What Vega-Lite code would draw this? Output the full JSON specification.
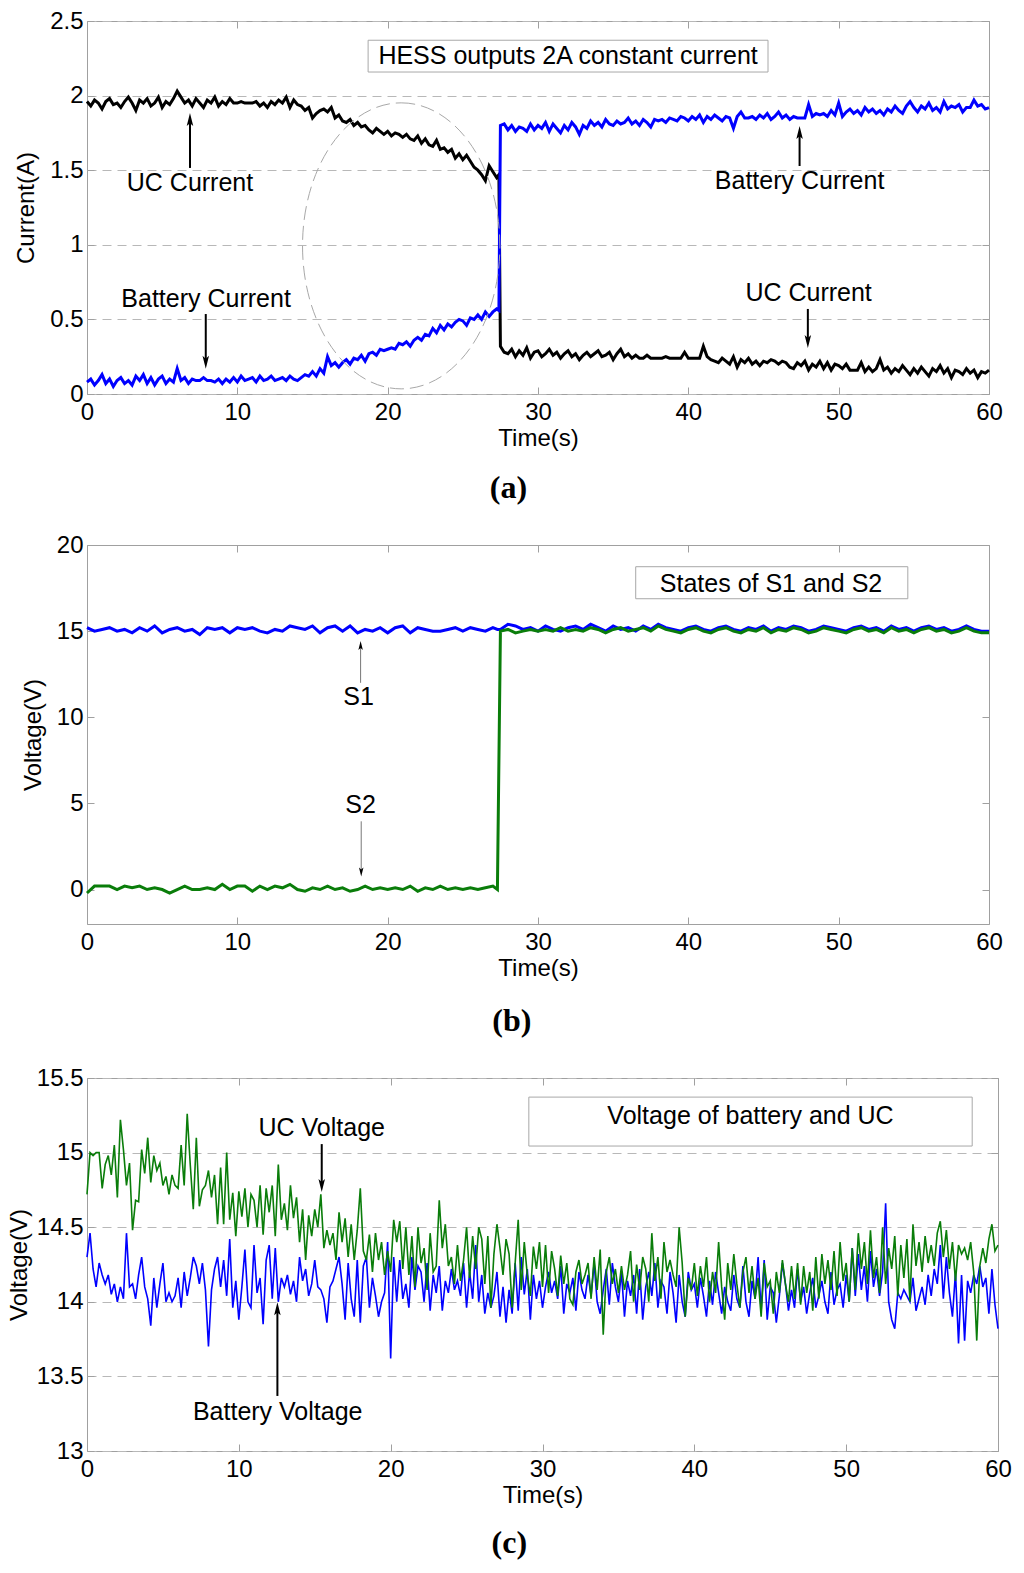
{
  "$schema": "https://vega.github.io/schema/vega-lite/v6.json",
  "background": "white",
  "padding": {"left": 6, "top": 8, "right": 0, "bottom": 0},
  "config": {
    "font": "Liberation Sans",
    "view": {"stroke": "#a0a0a0", "strokeWidth": 1},
    "axis": {
      "labelFont": "Liberation Sans", "labelFontSize": 24, "labelColor": "#000",
      "titleFont": "Liberation Sans", "titleFontSize": 24, "titleFontWeight": "normal", "titleColor": "#000",
      "domain": false, "tickColor": "#a0a0a0", "tickSize": -7,
      "gridColor": "#b8b8b8", "gridDash": [9, 6], "labelFlush": false, "labelOverlap": false
    },
    "axisX": {"labelPadding": 13, "titlePadding": 2},
    "axisY": {"labelPadding": 11}
  },
  "datasets": {
    "cur": [
      {"t":0,"uc":1.96,"bat":0.08},{"t":0.25,"uc":1.93,"bat":0.1},{"t":0.5,"uc":1.97,"bat":0.06},{"t":0.75,"uc":1.95,"bat":0.09},
      {"t":1,"uc":1.91,"bat":0.13},{"t":1.25,"uc":1.96,"bat":0.07},{"t":1.5,"uc":1.98,"bat":0.1},{"t":1.75,"uc":1.94,"bat":0.05},
      {"t":2,"uc":1.95,"bat":0.09},{"t":2.25,"uc":1.92,"bat":0.11},{"t":2.5,"uc":1.96,"bat":0.07},{"t":2.75,"uc":1.99,"bat":0.09},
      {"t":3,"uc":1.95,"bat":0.06},{"t":3.25,"uc":1.9,"bat":0.12},{"t":3.5,"uc":1.97,"bat":0.09},{"t":3.75,"uc":1.95,"bat":0.13},
      {"t":4,"uc":1.98,"bat":0.07},{"t":4.25,"uc":1.93,"bat":0.11},{"t":4.5,"uc":1.95,"bat":0.06},{"t":4.75,"uc":1.99,"bat":0.1},
      {"t":5,"uc":1.92,"bat":0.12},{"t":5.25,"uc":1.96,"bat":0.07},{"t":5.5,"uc":1.94,"bat":0.1},{"t":5.75,"uc":1.98,"bat":0.08},
      {"t":6,"uc":2.03,"bat":0.17},{"t":6.25,"uc":1.99,"bat":0.09},{"t":6.5,"uc":1.95,"bat":0.11},{"t":6.75,"uc":1.97,"bat":0.07},
      {"t":7,"uc":1.93,"bat":0.1},{"t":7.25,"uc":1.98,"bat":0.09},{"t":7.5,"uc":1.95,"bat":0.09},{"t":7.75,"uc":1.92,"bat":0.11},
      {"t":8,"uc":1.97,"bat":0.09},{"t":8.25,"uc":1.95,"bat":0.09},{"t":8.5,"uc":1.99,"bat":0.08},{"t":8.75,"uc":1.93,"bat":0.1},
      {"t":9,"uc":1.96,"bat":0.07},{"t":9.25,"uc":1.94,"bat":0.1},{"t":9.5,"uc":1.98,"bat":0.08},{"t":9.75,"uc":1.95,"bat":0.11},
      {"t":10,"uc":1.95,"bat":0.08},{"t":10.25,"uc":1.96,"bat":0.12},{"t":10.5,"uc":1.95,"bat":0.09},{"t":10.75,"uc":1.95,"bat":0.1},
      {"t":11,"uc":1.95,"bat":0.11},{"t":11.25,"uc":1.96,"bat":0.08},{"t":11.5,"uc":1.93,"bat":0.12},{"t":11.75,"uc":1.95,"bat":0.09},
      {"t":12,"uc":1.92,"bat":0.1},{"t":12.25,"uc":1.96,"bat":0.12},{"t":12.5,"uc":1.94,"bat":0.09},{"t":12.75,"uc":1.97,"bat":0.1},
      {"t":13,"uc":1.95,"bat":0.11},{"t":13.25,"uc":1.99,"bat":0.09},{"t":13.5,"uc":1.92,"bat":0.12},{"t":13.75,"uc":1.97,"bat":0.1},
      {"t":14,"uc":1.94,"bat":0.09},{"t":14.25,"uc":1.93,"bat":0.11},{"t":14.5,"uc":1.9,"bat":0.13},{"t":14.75,"uc":1.92,"bat":0.12},
      {"t":15,"uc":1.85,"bat":0.15},{"t":15.25,"uc":1.88,"bat":0.12},{"t":15.5,"uc":1.9,"bat":0.17},{"t":15.75,"uc":1.91,"bat":0.14},
      {"t":16,"uc":1.89,"bat":0.25},{"t":16.25,"uc":1.92,"bat":0.19},{"t":16.5,"uc":1.85,"bat":0.21},{"t":16.75,"uc":1.87,"bat":0.18},
      {"t":17,"uc":1.83,"bat":0.21},{"t":17.25,"uc":1.82,"bat":0.23},{"t":17.5,"uc":1.84,"bat":0.2},{"t":17.75,"uc":1.8,"bat":0.24},
      {"t":18,"uc":1.82,"bat":0.23},{"t":18.25,"uc":1.79,"bat":0.26},{"t":18.5,"uc":1.8,"bat":0.22},{"t":18.75,"uc":1.77,"bat":0.27},
      {"t":19,"uc":1.75,"bat":0.28},{"t":19.25,"uc":1.78,"bat":0.26},{"t":19.5,"uc":1.76,"bat":0.3},{"t":19.75,"uc":1.74,"bat":0.29},
      {"t":20,"uc":1.76,"bat":0.3},{"t":20.25,"uc":1.73,"bat":0.31},{"t":20.5,"uc":1.75,"bat":0.3},{"t":20.75,"uc":1.74,"bat":0.34},
      {"t":21,"uc":1.72,"bat":0.33},{"t":21.25,"uc":1.74,"bat":0.35},{"t":21.5,"uc":1.71,"bat":0.32},{"t":21.75,"uc":1.7,"bat":0.36},
      {"t":22,"uc":1.73,"bat":0.38},{"t":22.25,"uc":1.68,"bat":0.36},{"t":22.5,"uc":1.71,"bat":0.4},{"t":22.75,"uc":1.67,"bat":0.39},
      {"t":23,"uc":1.66,"bat":0.44},{"t":23.25,"uc":1.7,"bat":0.41},{"t":23.5,"uc":1.64,"bat":0.46},{"t":23.75,"uc":1.65,"bat":0.43},
      {"t":24,"uc":1.62,"bat":0.47},{"t":24.25,"uc":1.64,"bat":0.45},{"t":24.5,"uc":1.58,"bat":0.48},{"t":24.75,"uc":1.61,"bat":0.5},
      {"t":25,"uc":1.57,"bat":0.49},{"t":25.25,"uc":1.6,"bat":0.46},{"t":25.5,"uc":1.56,"bat":0.51},{"t":25.75,"uc":1.52,"bat":0.5},
      {"t":26,"uc":1.5,"bat":0.53},{"t":26.25,"uc":1.47,"bat":0.5},{"t":26.5,"uc":1.43,"bat":0.55},{"t":26.75,"uc":1.53,"bat":0.52},
      {"t":27,"uc":1.49,"bat":0.55},{"t":27.25,"uc":1.45,"bat":0.57},{"t":27.4,"uc":1.47,"bat":0.56},{"t":27.5,"uc":0.32,"bat":1.8},{"t":27.75,"uc":0.28,"bat":1.81},
      {"t":28,"uc":0.27,"bat":1.77},{"t":28.25,"uc":0.3,"bat":1.8},{"t":28.5,"uc":0.25,"bat":1.76},{"t":28.75,"uc":0.29,"bat":1.79},
      {"t":29,"uc":0.26,"bat":1.78},{"t":29.25,"uc":0.31,"bat":1.76},{"t":29.5,"uc":0.24,"bat":1.81},{"t":29.75,"uc":0.28,"bat":1.77},
      {"t":30,"uc":0.29,"bat":1.8},{"t":30.25,"uc":0.25,"bat":1.78},{"t":30.5,"uc":0.27,"bat":1.82},{"t":30.75,"uc":0.3,"bat":1.76},
      {"t":31,"uc":0.26,"bat":1.81},{"t":31.25,"uc":0.28,"bat":1.78},{"t":31.5,"uc":0.24,"bat":1.75},{"t":31.75,"uc":0.27,"bat":1.8},
      {"t":32,"uc":0.29,"bat":1.77},{"t":32.25,"uc":0.25,"bat":1.82},{"t":32.5,"uc":0.27,"bat":1.79},{"t":32.75,"uc":0.23,"bat":1.74},
      {"t":33,"uc":0.26,"bat":1.8},{"t":33.25,"uc":0.28,"bat":1.78},{"t":33.5,"uc":0.25,"bat":1.83},{"t":33.75,"uc":0.27,"bat":1.8},
      {"t":34,"uc":0.29,"bat":1.82},{"t":34.25,"uc":0.25,"bat":1.79},{"t":34.5,"uc":0.26,"bat":1.84},{"t":34.75,"uc":0.28,"bat":1.81},
      {"t":35,"uc":0.23,"bat":1.8},{"t":35.25,"uc":0.27,"bat":1.83},{"t":35.5,"uc":0.3,"bat":1.81},{"t":35.75,"uc":0.25,"bat":1.82},
      {"t":36,"uc":0.27,"bat":1.85},{"t":36.25,"uc":0.24,"bat":1.81},{"t":36.5,"uc":0.26,"bat":1.83},{"t":36.75,"uc":0.24,"bat":1.8},
      {"t":37,"uc":0.24,"bat":1.84},{"t":37.25,"uc":0.26,"bat":1.82},{"t":37.5,"uc":0.24,"bat":1.79},{"t":37.75,"uc":0.24,"bat":1.84},
      {"t":38,"uc":0.24,"bat":1.83},{"t":38.25,"uc":0.24,"bat":1.84},{"t":38.5,"uc":0.25,"bat":1.82},{"t":38.75,"uc":0.24,"bat":1.85},
      {"t":39,"uc":0.24,"bat":1.84},{"t":39.25,"uc":0.24,"bat":1.83},{"t":39.5,"uc":0.24,"bat":1.86},{"t":39.75,"uc":0.28,"bat":1.85},
      {"t":40,"uc":0.24,"bat":1.83},{"t":40.25,"uc":0.24,"bat":1.86},{"t":40.5,"uc":0.24,"bat":1.84},{"t":40.75,"uc":0.24,"bat":1.87},
      {"t":41,"uc":0.32,"bat":1.82},{"t":41.25,"uc":0.25,"bat":1.86},{"t":41.5,"uc":0.23,"bat":1.84},{"t":41.75,"uc":0.22,"bat":1.87},
      {"t":42,"uc":0.21,"bat":1.85},{"t":42.25,"uc":0.24,"bat":1.83},{"t":42.5,"uc":0.22,"bat":1.86},{"t":42.75,"uc":0.2,"bat":1.85},
      {"t":43,"uc":0.25,"bat":1.78},{"t":43.25,"uc":0.18,"bat":1.86},{"t":43.5,"uc":0.23,"bat":1.89},{"t":43.75,"uc":0.21,"bat":1.85},
      {"t":44,"uc":0.24,"bat":1.85},{"t":44.25,"uc":0.2,"bat":1.86},{"t":44.5,"uc":0.22,"bat":1.84},{"t":44.75,"uc":0.19,"bat":1.87},
      {"t":45,"uc":0.22,"bat":1.85},{"t":45.25,"uc":0.21,"bat":1.88},{"t":45.5,"uc":0.23,"bat":1.84},{"t":45.75,"uc":0.22,"bat":1.86},
      {"t":46,"uc":0.2,"bat":1.89},{"t":46.25,"uc":0.22,"bat":1.85},{"t":46.5,"uc":0.21,"bat":1.87},{"t":46.75,"uc":0.18,"bat":1.84},
      {"t":47,"uc":0.17,"bat":1.86},{"t":47.25,"uc":0.21,"bat":1.85},{"t":47.5,"uc":0.19,"bat":1.85},{"t":47.75,"uc":0.22,"bat":1.85},
      {"t":48,"uc":0.16,"bat":1.94},{"t":48.25,"uc":0.2,"bat":1.86},{"t":48.5,"uc":0.18,"bat":1.88},{"t":48.75,"uc":0.22,"bat":1.87},
      {"t":49,"uc":0.17,"bat":1.88},{"t":49.25,"uc":0.21,"bat":1.86},{"t":49.5,"uc":0.16,"bat":1.9},{"t":49.75,"uc":0.2,"bat":1.87},
      {"t":50,"uc":0.19,"bat":1.95},{"t":50.25,"uc":0.17,"bat":1.86},{"t":50.5,"uc":0.2,"bat":1.89},{"t":50.75,"uc":0.16,"bat":1.91},
      {"t":51,"uc":0.16,"bat":1.88},{"t":51.25,"uc":0.16,"bat":1.9},{"t":51.5,"uc":0.21,"bat":1.87},{"t":51.75,"uc":0.15,"bat":1.92},
      {"t":52,"uc":0.18,"bat":1.89},{"t":52.25,"uc":0.15,"bat":1.91},{"t":52.5,"uc":0.17,"bat":1.88},{"t":52.75,"uc":0.23,"bat":1.9},
      {"t":53,"uc":0.16,"bat":1.87},{"t":53.25,"uc":0.18,"bat":1.91},{"t":53.5,"uc":0.14,"bat":1.89},{"t":53.75,"uc":0.17,"bat":1.93},
      {"t":54,"uc":0.15,"bat":1.9},{"t":54.25,"uc":0.19,"bat":1.88},{"t":54.5,"uc":0.16,"bat":1.93},{"t":54.75,"uc":0.13,"bat":1.96},
      {"t":55,"uc":0.17,"bat":1.92},{"t":55.25,"uc":0.14,"bat":1.89},{"t":55.5,"uc":0.18,"bat":1.93},{"t":55.75,"uc":0.15,"bat":1.91},
      {"t":56,"uc":0.12,"bat":1.95},{"t":56.25,"uc":0.17,"bat":1.9},{"t":56.5,"uc":0.15,"bat":1.92},{"t":56.75,"uc":0.19,"bat":1.89},
      {"t":57,"uc":0.14,"bat":1.96},{"t":57.25,"uc":0.17,"bat":1.91},{"t":57.5,"uc":0.11,"bat":1.93},{"t":57.75,"uc":0.16,"bat":1.92},
      {"t":58,"uc":0.15,"bat":1.94},{"t":58.25,"uc":0.13,"bat":1.89},{"t":58.5,"uc":0.17,"bat":1.92},{"t":58.75,"uc":0.14,"bat":1.92},
      {"t":59,"uc":0.16,"bat":1.97},{"t":59.25,"uc":0.11,"bat":1.93},{"t":59.5,"uc":0.15,"bat":1.94},{"t":59.75,"uc":0.14,"bat":1.91},
      {"t":60,"uc":0.16,"bat":1.92}
    ],
    "sw": [
      {"t":0,"s1":15.2,"s2":-0.2},{"t":0.5,"s1":15.0,"s2":0.2},{"t":1,"s1":15.1,"s2":0.2},{"t":1.5,"s1":15.2,"s2":0.2},{"t":2,"s1":15.0,"s2":0.0},
      {"t":2.5,"s1":15.1,"s2":0.2},{"t":3,"s1":14.9,"s2":0.1},{"t":3.5,"s1":15.2,"s2":0.2},{"t":4,"s1":15.0,"s2":0.0},{"t":4.5,"s1":15.3,"s2":0.1},
      {"t":5,"s1":14.9,"s2":0.0},{"t":5.5,"s1":15.1,"s2":-0.2},{"t":6,"s1":15.2,"s2":0.0},{"t":6.5,"s1":15.0,"s2":0.2},{"t":7,"s1":15.1,"s2":0.0},
      {"t":7.5,"s1":14.8,"s2":0.0},{"t":8,"s1":15.2,"s2":0.1},{"t":8.5,"s1":15.1,"s2":0.0},{"t":9,"s1":15.2,"s2":0.3},{"t":9.5,"s1":14.9,"s2":0.0},
      {"t":10,"s1":15.2,"s2":0.2},{"t":10.5,"s1":15.1,"s2":0.2},{"t":11,"s1":15.2,"s2":-0.1},{"t":11.5,"s1":15.0,"s2":0.2},{"t":12,"s1":14.9,"s2":0.0},
      {"t":12.5,"s1":15.1,"s2":0.2},{"t":13,"s1":15.0,"s2":0.1},{"t":13.5,"s1":15.3,"s2":0.3},{"t":14,"s1":15.2,"s2":0.0},{"t":14.5,"s1":15.1,"s2":-0.1},
      {"t":15,"s1":15.3,"s2":0.1},{"t":15.5,"s1":14.9,"s2":0.0},{"t":16,"s1":15.2,"s2":0.2},{"t":16.5,"s1":15.3,"s2":0.0},{"t":17,"s1":15.0,"s2":0.1},
      {"t":17.5,"s1":15.3,"s2":-0.1},{"t":18,"s1":14.9,"s2":0.0},{"t":18.5,"s1":15.1,"s2":0.2},{"t":19,"s1":15.0,"s2":0.0},{"t":19.5,"s1":15.2,"s2":0.1},
      {"t":20,"s1":14.9,"s2":0.0},{"t":20.5,"s1":15.2,"s2":0.1},{"t":21,"s1":15.3,"s2":0.0},{"t":21.5,"s1":14.9,"s2":0.2},{"t":22,"s1":15.2,"s2":-0.1},
      {"t":22.5,"s1":15.1,"s2":0.1},{"t":23,"s1":15.0,"s2":0.0},{"t":23.5,"s1":15.0,"s2":0.2},{"t":24,"s1":15.1,"s2":0.0},{"t":24.5,"s1":15.2,"s2":0.1},
      {"t":25,"s1":15.0,"s2":0.0},{"t":25.5,"s1":15.2,"s2":0.1},{"t":26,"s1":15.1,"s2":0.0},{"t":26.5,"s1":15.0,"s2":0.1},{"t":27,"s1":15.2,"s2":0.2},
      {"t":27.3,"s1":15.1,"s2":0.0},{"t":27.5,"s1":15.1,"s2":15.0},{"t":28,"s1":15.4,"s2":15.1},{"t":28.5,"s1":15.3,"s2":14.9},{"t":29,"s1":15.1,"s2":15.0},{"t":29.5,"s1":15.2,"s2":15.1},
      {"t":30,"s1":15.0,"s2":15.0},{"t":30.5,"s1":15.3,"s2":15.1},{"t":31,"s1":15.1,"s2":15.0},{"t":31.5,"s1":15.0,"s2":15.2},{"t":32,"s1":15.2,"s2":15.0},
      {"t":32.5,"s1":15.3,"s2":15.1},{"t":33,"s1":15.1,"s2":15.0},{"t":33.5,"s1":15.4,"s2":15.2},{"t":34,"s1":15.2,"s2":15.1},{"t":34.5,"s1":15.0,"s2":14.9},
      {"t":35,"s1":15.3,"s2":15.1},{"t":35.5,"s1":15.1,"s2":15.2},{"t":36,"s1":15.2,"s2":15.0},{"t":36.5,"s1":15.0,"s2":15.1},{"t":37,"s1":15.3,"s2":15.2},
      {"t":37.5,"s1":15.1,"s2":15.0},{"t":38,"s1":15.4,"s2":15.3},{"t":38.5,"s1":15.2,"s2":15.1},{"t":39,"s1":15.1,"s2":15.0},{"t":39.5,"s1":15.0,"s2":14.9},
      {"t":40,"s1":15.2,"s2":15.1},{"t":40.5,"s1":15.3,"s2":15.2},{"t":41,"s1":15.1,"s2":15.0},{"t":41.5,"s1":15.0,"s2":14.9},{"t":42,"s1":15.2,"s2":15.1},
      {"t":42.5,"s1":15.3,"s2":15.2},{"t":43,"s1":15.1,"s2":15.0},{"t":43.5,"s1":15.0,"s2":14.9},{"t":44,"s1":15.2,"s2":15.1},{"t":44.5,"s1":15.1,"s2":15.0},
      {"t":45,"s1":15.3,"s2":15.2},{"t":45.5,"s1":15.0,"s2":14.9},{"t":46,"s1":15.2,"s2":15.1},{"t":46.5,"s1":15.1,"s2":15.0},{"t":47,"s1":15.3,"s2":15.2},
      {"t":47.5,"s1":15.2,"s2":15.1},{"t":48,"s1":15.0,"s2":14.9},{"t":48.5,"s1":15.1,"s2":15.0},{"t":49,"s1":15.3,"s2":15.2},{"t":49.5,"s1":15.2,"s2":15.1},
      {"t":50,"s1":15.1,"s2":15.0},{"t":50.5,"s1":15.0,"s2":14.9},{"t":51,"s1":15.2,"s2":15.1},{"t":51.5,"s1":15.3,"s2":15.2},{"t":52,"s1":15.1,"s2":15.0},
      {"t":52.5,"s1":15.2,"s2":15.1},{"t":53,"s1":15.0,"s2":14.9},{"t":53.5,"s1":15.3,"s2":15.2},{"t":54,"s1":15.1,"s2":15.0},{"t":54.5,"s1":15.2,"s2":15.1},
      {"t":55,"s1":15.0,"s2":14.9},{"t":55.5,"s1":15.2,"s2":15.1},{"t":56,"s1":15.3,"s2":15.2},{"t":56.5,"s1":15.1,"s2":15.0},{"t":57,"s1":15.2,"s2":15.1},
      {"t":57.5,"s1":15.0,"s2":14.9},{"t":58,"s1":15.1,"s2":15.0},{"t":58.5,"s1":15.3,"s2":15.2},{"t":59,"s1":15.1,"s2":15.0},{"t":59.5,"s1":15.0,"s2":14.9},
      {"t":60,"s1":15.0,"s2":14.9}
    ],
    "volt": [
      {"t":0,"uc":14.72,"bat":14.3},{"t":0.2,"uc":15.0,"bat":14.46},{"t":0.4,"uc":14.98,"bat":14.22},{"t":0.6,"uc":15.0,"bat":14.1},{"t":0.8,"uc":15.0,"bat":14.26},
      {"t":1,"uc":14.76,"bat":14.18},{"t":1.2,"uc":14.92,"bat":14.12},{"t":1.4,"uc":14.98,"bat":14.18},{"t":1.6,"uc":14.85,"bat":14.05},{"t":1.8,"uc":15.05,"bat":14.12},
      {"t":2,"uc":14.7,"bat":14.0},{"t":2.2,"uc":15.22,"bat":14.1},{"t":2.4,"uc":15.02,"bat":14.02},{"t":2.6,"uc":14.78,"bat":14.46},{"t":2.8,"uc":14.93,"bat":14.1},
      {"t":3,"uc":14.48,"bat":14.12},{"t":3.2,"uc":14.68,"bat":14.02},{"t":3.4,"uc":14.67,"bat":14.18},{"t":3.6,"uc":15.02,"bat":14.3},{"t":3.8,"uc":14.86,"bat":14.1},
      {"t":4,"uc":15.1,"bat":14.02},{"t":4.2,"uc":14.8,"bat":13.84},{"t":4.4,"uc":14.98,"bat":14.16},{"t":4.6,"uc":14.88,"bat":13.96},{"t":4.8,"uc":14.93,"bat":14.12},
      {"t":5,"uc":14.78,"bat":14.26},{"t":5.2,"uc":14.84,"bat":14.0},{"t":5.4,"uc":14.72,"bat":14.06},{"t":5.6,"uc":14.85,"bat":14.0},{"t":5.8,"uc":14.78,"bat":14.04},
      {"t":6,"uc":14.76,"bat":14.16},{"t":6.2,"uc":15.05,"bat":13.96},{"t":6.4,"uc":14.78,"bat":14.2},{"t":6.6,"uc":15.26,"bat":14.04},{"t":6.8,"uc":14.92,"bat":14.16},
      {"t":7,"uc":14.62,"bat":14.3},{"t":7.2,"uc":15.1,"bat":14.24},{"t":7.4,"uc":14.64,"bat":14.12},{"t":7.6,"uc":14.75,"bat":14.26},{"t":7.8,"uc":14.78,"bat":14.08},
      {"t":8,"uc":14.88,"bat":13.7},{"t":8.2,"uc":14.7,"bat":14.08},{"t":8.4,"uc":14.85,"bat":14.22},{"t":8.6,"uc":14.52,"bat":14.3},{"t":8.8,"uc":14.9,"bat":14.1},
      {"t":9,"uc":14.52,"bat":14.28},{"t":9.2,"uc":15.0,"bat":14.04},{"t":9.4,"uc":14.55,"bat":14.42},{"t":9.6,"uc":14.73,"bat":13.96},{"t":9.8,"uc":14.44,"bat":14.14},
      {"t":10,"uc":14.74,"bat":13.88},{"t":10.2,"uc":14.57,"bat":14.1},{"t":10.4,"uc":14.76,"bat":14.35},{"t":10.6,"uc":14.5,"bat":14.0},{"t":10.8,"uc":14.72,"bat":13.96},
      {"t":11,"uc":14.68,"bat":14.38},{"t":11.2,"uc":14.5,"bat":14.06},{"t":11.4,"uc":14.78,"bat":14.16},{"t":11.6,"uc":14.45,"bat":13.85},{"t":11.8,"uc":14.76,"bat":14.28},
      {"t":12,"uc":14.6,"bat":14.38},{"t":12.2,"uc":14.78,"bat":14.02},{"t":12.4,"uc":14.44,"bat":14.36},{"t":12.6,"uc":14.92,"bat":14.0},{"t":12.8,"uc":14.55,"bat":14.16},
      {"t":13,"uc":14.66,"bat":14.1},{"t":13.2,"uc":14.48,"bat":14.18},{"t":13.4,"uc":14.78,"bat":14.05},{"t":13.6,"uc":14.56,"bat":14.14},{"t":13.8,"uc":14.7,"bat":14.0},
      {"t":14,"uc":14.4,"bat":14.3},{"t":14.2,"uc":14.62,"bat":14.14},{"t":14.4,"uc":14.28,"bat":14.22},{"t":14.6,"uc":14.58,"bat":14.04},{"t":14.8,"uc":14.44,"bat":14.12},
      {"t":15,"uc":14.62,"bat":14.28},{"t":15.2,"uc":14.5,"bat":14.1},{"t":15.4,"uc":14.72,"bat":14.08},{"t":15.6,"uc":14.36,"bat":14.02},{"t":15.8,"uc":14.48,"bat":13.86},
      {"t":16,"uc":14.38,"bat":14.1},{"t":16.2,"uc":14.46,"bat":14.14},{"t":16.4,"uc":14.28,"bat":14.22},{"t":16.6,"uc":14.6,"bat":14.3},{"t":16.8,"uc":14.4,"bat":14.12},
      {"t":17,"uc":14.56,"bat":13.88},{"t":17.2,"uc":14.3,"bat":14.26},{"t":17.4,"uc":14.52,"bat":14.02},{"t":17.6,"uc":14.28,"bat":13.9},{"t":17.8,"uc":14.48,"bat":14.28},
      {"t":18,"uc":14.76,"bat":13.86},{"t":18.2,"uc":14.34,"bat":14.24},{"t":18.4,"uc":14.28,"bat":14.3},{"t":18.6,"uc":14.45,"bat":13.96},{"t":18.8,"uc":14.2,"bat":14.16},
      {"t":19,"uc":14.46,"bat":14.04},{"t":19.2,"uc":14.28,"bat":13.9},{"t":19.4,"uc":14.4,"bat":14.0},{"t":19.6,"uc":14.18,"bat":14.06},{"t":19.8,"uc":14.34,"bat":14.4},
      {"t":20,"uc":14.2,"bat":13.62},{"t":20.2,"uc":14.55,"bat":14.3},{"t":20.4,"uc":14.4,"bat":14.0},{"t":20.6,"uc":14.54,"bat":14.28},{"t":20.8,"uc":14.22,"bat":14.02},
      {"t":21,"uc":14.5,"bat":14.12},{"t":21.2,"uc":14.18,"bat":13.96},{"t":21.4,"uc":14.44,"bat":14.3},{"t":21.6,"uc":14.1,"bat":14.08},{"t":21.8,"uc":14.5,"bat":14.24},
      {"t":22,"uc":14.26,"bat":14.2},{"t":22.2,"uc":14.36,"bat":14.0},{"t":22.4,"uc":14.08,"bat":14.26},{"t":22.6,"uc":14.46,"bat":13.94},{"t":22.8,"uc":14.2,"bat":14.18},
      {"t":23,"uc":14.24,"bat":14.06},{"t":23.2,"uc":14.68,"bat":14.24},{"t":23.4,"uc":14.36,"bat":13.94},{"t":23.6,"uc":14.52,"bat":14.14},{"t":23.8,"uc":14.24,"bat":14.06},
      {"t":24,"uc":14.3,"bat":14.22},{"t":24.2,"uc":14.12,"bat":14.08},{"t":24.4,"uc":14.38,"bat":14.14},{"t":24.6,"uc":14.14,"bat":14.04},{"t":24.8,"uc":14.28,"bat":14.26},
      {"t":25,"uc":14.5,"bat":13.96},{"t":25.2,"uc":14.16,"bat":14.2},{"t":25.4,"uc":14.44,"bat":14.02},{"t":25.6,"uc":14.22,"bat":14.38},{"t":25.8,"uc":14.5,"bat":14.0},
      {"t":26,"uc":14.42,"bat":14.18},{"t":26.2,"uc":14.12,"bat":13.92},{"t":26.4,"uc":14.44,"bat":14.06},{"t":26.6,"uc":13.96,"bat":13.96},{"t":26.8,"uc":14.32,"bat":14.04},
      {"t":27,"uc":14.52,"bat":14.2},{"t":27.2,"uc":14.36,"bat":13.9},{"t":27.4,"uc":14.18,"bat":14.1},{"t":27.6,"uc":14.42,"bat":13.86},{"t":27.8,"uc":14.32,"bat":14.08},
      {"t":28,"uc":13.96,"bat":13.92},{"t":28.2,"uc":14.26,"bat":14.26},{"t":28.4,"uc":14.55,"bat":13.94},{"t":28.6,"uc":14.08,"bat":14.3},{"t":28.8,"uc":14.4,"bat":14.05},
      {"t":29,"uc":14.18,"bat":14.22},{"t":29.2,"uc":14.04,"bat":13.88},{"t":29.4,"uc":14.37,"bat":14.18},{"t":29.6,"uc":14.22,"bat":14.02},{"t":29.8,"uc":14.4,"bat":14.14},
      {"t":30,"uc":14.1,"bat":13.96},{"t":30.2,"uc":14.38,"bat":14.1},{"t":30.4,"uc":14.06,"bat":14.2},{"t":30.6,"uc":14.34,"bat":14.06},{"t":30.8,"uc":14.22,"bat":14.14},
      {"t":31,"uc":14.04,"bat":14.02},{"t":31.2,"uc":14.31,"bat":14.24},{"t":31.4,"uc":14.12,"bat":13.92},{"t":31.6,"uc":14.26,"bat":14.12},{"t":31.8,"uc":14.02,"bat":14.06},
      {"t":32,"uc":13.98,"bat":14.16},{"t":32.2,"uc":14.2,"bat":13.94},{"t":32.4,"uc":14.28,"bat":14.2},{"t":32.6,"uc":14.12,"bat":14.08},{"t":32.8,"uc":14.18,"bat":14.02},
      {"t":33,"uc":14.26,"bat":14.18},{"t":33.2,"uc":14.02,"bat":14.04},{"t":33.4,"uc":14.3,"bat":14.26},{"t":33.6,"uc":14.08,"bat":14.0},{"t":33.8,"uc":14.35,"bat":13.92},
      {"t":34,"uc":13.78,"bat":14.08},{"t":34.2,"uc":14.2,"bat":14.22},{"t":34.4,"uc":14.3,"bat":13.98},{"t":34.6,"uc":14.12,"bat":14.26},{"t":34.8,"uc":14.22,"bat":14.1},
      {"t":35,"uc":14.06,"bat":14.0},{"t":35.2,"uc":14.24,"bat":14.2},{"t":35.4,"uc":14.08,"bat":13.9},{"t":35.6,"uc":14.18,"bat":14.14},{"t":35.8,"uc":14.34,"bat":14.04},
      {"t":36,"uc":14.0,"bat":14.18},{"t":36.2,"uc":14.25,"bat":13.92},{"t":36.4,"uc":14.08,"bat":14.22},{"t":36.6,"uc":14.3,"bat":13.88},{"t":36.8,"uc":14.22,"bat":14.1},
      {"t":37,"uc":14.0,"bat":14.2},{"t":37.2,"uc":14.46,"bat":14.04},{"t":37.4,"uc":14.14,"bat":14.26},{"t":37.6,"uc":14.3,"bat":13.96},{"t":37.8,"uc":14.02,"bat":14.14},
      {"t":38,"uc":14.4,"bat":14.1},{"t":38.2,"uc":14.2,"bat":13.92},{"t":38.4,"uc":14.28,"bat":14.2},{"t":38.6,"uc":14.18,"bat":14.06},{"t":38.8,"uc":14.1,"bat":13.86},
      {"t":39,"uc":14.5,"bat":14.18},{"t":39.2,"uc":14.26,"bat":14.0},{"t":39.4,"uc":13.9,"bat":13.9},{"t":39.6,"uc":14.16,"bat":14.2},{"t":39.8,"uc":14.08,"bat":14.08},
      {"t":40,"uc":14.26,"bat":14.12},{"t":40.2,"uc":14.04,"bat":13.96},{"t":40.4,"uc":14.24,"bat":14.16},{"t":40.6,"uc":14.1,"bat":14.04},{"t":40.8,"uc":14.3,"bat":13.9},
      {"t":41,"uc":14.0,"bat":14.14},{"t":41.2,"uc":14.2,"bat":13.98},{"t":41.4,"uc":14.06,"bat":14.2},{"t":41.6,"uc":14.4,"bat":14.06},{"t":41.8,"uc":14.1,"bat":13.92},
      {"t":42,"uc":13.88,"bat":14.1},{"t":42.2,"uc":14.26,"bat":14.0},{"t":42.4,"uc":14.08,"bat":13.94},{"t":42.6,"uc":14.32,"bat":14.18},{"t":42.8,"uc":14.12,"bat":14.02},
      {"t":43,"uc":13.96,"bat":13.96},{"t":43.2,"uc":14.2,"bat":14.24},{"t":43.4,"uc":14.3,"bat":14.0},{"t":43.6,"uc":14.06,"bat":13.9},{"t":43.8,"uc":14.24,"bat":14.14},
      {"t":44,"uc":14.02,"bat":14.02},{"t":44.2,"uc":14.16,"bat":14.3},{"t":44.4,"uc":13.9,"bat":13.94},{"t":44.6,"uc":14.26,"bat":14.28},{"t":44.8,"uc":14.1,"bat":13.88},
      {"t":45,"uc":14.14,"bat":14.1},{"t":45.2,"uc":13.92,"bat":14.06},{"t":45.4,"uc":14.2,"bat":13.86},{"t":45.6,"uc":14.06,"bat":14.04},{"t":45.8,"uc":14.28,"bat":14.26},
      {"t":46,"uc":14.12,"bat":14.12},{"t":46.2,"uc":14.0,"bat":13.94},{"t":46.4,"uc":14.24,"bat":14.08},{"t":46.6,"uc":14.02,"bat":13.96},{"t":46.8,"uc":14.26,"bat":14.22},
      {"t":47,"uc":13.98,"bat":14.0},{"t":47.2,"uc":14.24,"bat":14.1},{"t":47.4,"uc":14.06,"bat":13.92},{"t":47.6,"uc":14.2,"bat":14.06},{"t":47.8,"uc":13.94,"bat":14.16},
      {"t":48,"uc":14.3,"bat":13.96},{"t":48.2,"uc":14.02,"bat":14.04},{"t":48.4,"uc":14.32,"bat":14.14},{"t":48.6,"uc":14.12,"bat":14.0},{"t":48.8,"uc":14.28,"bat":13.92},
      {"t":49,"uc":14.08,"bat":14.2},{"t":49.2,"uc":14.34,"bat":13.98},{"t":49.4,"uc":14.04,"bat":14.08},{"t":49.6,"uc":14.4,"bat":14.12},{"t":49.8,"uc":14.14,"bat":13.96},
      {"t":50,"uc":14.26,"bat":14.18},{"t":50.2,"uc":14.0,"bat":14.0},{"t":50.4,"uc":14.36,"bat":14.36},{"t":50.6,"uc":14.08,"bat":14.04},{"t":50.8,"uc":14.46,"bat":14.32},
      {"t":51,"uc":14.22,"bat":14.08},{"t":51.2,"uc":14.4,"bat":14.24},{"t":51.4,"uc":14.12,"bat":14.0},{"t":51.6,"uc":14.48,"bat":14.34},{"t":51.8,"uc":14.16,"bat":14.1},
      {"t":52,"uc":14.3,"bat":14.22},{"t":52.2,"uc":14.06,"bat":14.04},{"t":52.4,"uc":14.5,"bat":14.2},{"t":52.6,"uc":14.12,"bat":14.66},{"t":52.8,"uc":14.36,"bat":14.0},
      {"t":53,"uc":14.22,"bat":13.88},{"t":53.2,"uc":14.44,"bat":13.82},{"t":53.4,"uc":14.04,"bat":14.06},{"t":53.6,"uc":14.38,"bat":14.02},{"t":53.8,"uc":14.16,"bat":14.08},
      {"t":54,"uc":14.42,"bat":14.04},{"t":54.2,"uc":14.0,"bat":14.0},{"t":54.4,"uc":14.52,"bat":14.16},{"t":54.6,"uc":14.24,"bat":13.94},{"t":54.8,"uc":14.4,"bat":14.02},
      {"t":55,"uc":14.2,"bat":14.1},{"t":55.2,"uc":14.44,"bat":13.98},{"t":55.4,"uc":14.26,"bat":14.18},{"t":55.6,"uc":14.38,"bat":14.04},{"t":55.8,"uc":14.24,"bat":14.22},
      {"t":56,"uc":14.46,"bat":14.12},{"t":56.2,"uc":14.54,"bat":14.38},{"t":56.4,"uc":14.3,"bat":14.02},{"t":56.6,"uc":14.48,"bat":14.3},{"t":56.8,"uc":14.22,"bat":14.06},
      {"t":57,"uc":14.4,"bat":13.9},{"t":57.2,"uc":14.14,"bat":14.2},{"t":57.4,"uc":14.38,"bat":13.72},{"t":57.6,"uc":14.32,"bat":14.18},{"t":57.8,"uc":14.36,"bat":13.74},
      {"t":58,"uc":14.28,"bat":14.14},{"t":58.2,"uc":14.4,"bat":14.06},{"t":58.4,"uc":14.2,"bat":14.18},{"t":58.6,"uc":13.74,"bat":14.12},{"t":58.8,"uc":14.24,"bat":14.24},
      {"t":59,"uc":14.36,"bat":14.1},{"t":59.2,"uc":14.26,"bat":14.16},{"t":59.4,"uc":14.42,"bat":13.92},{"t":59.6,"uc":14.52,"bat":14.22},{"t":59.8,"uc":14.34,"bat":13.98},
      {"t":60,"uc":14.38,"bat":13.82}
    ],
    "textA": [
      {"t":6.85,"v":1.414,"label":"UC Current"},
      {"t":7.92,"v":0.637,"label":"Battery Current"},
      {"t":47.4,"v":1.43,"label":"Battery Current"},
      {"t":48.0,"v":0.677,"label":"UC Current"},
      {"t":32.0,"v":2.265,"label":"HESS outputs 2A constant current"}
    ],
    "ruleA": [
      {"t":6.85,"v":1.515,"v2":1.84},
      {"t":7.9,"v":0.536,"v2":0.212},
      {"t":47.4,"v":1.528,"v2":1.752},
      {"t":47.95,"v":0.57,"v2":0.352}
    ],
    "headA": [
      {"t":6.85,"v":1.839,"dir":"up"},
      {"t":7.9,"v":0.212,"dir":"down"},
      {"t":47.4,"v":1.752,"dir":"up"},
      {"t":47.95,"v":0.352,"dir":"down"}
    ],
    "boxA": [{"t":18.7,"t2":45.3,"v":2.371,"v2":2.158}],
    "ellA": [{"t":20.9,"v":0.993}],
    "textB": [
      {"t":18.07,"v":11.18,"label":"S1"},
      {"t":18.2,"v":4.89,"label":"S2"},
      {"t":45.5,"v":17.75,"label":"States of S1 and S2"}
    ],
    "ruleB": [
      {"t":18.2,"v":12.0,"v2":14.17},
      {"t":18.24,"v":3.96,"v2":1.02}
    ],
    "headB": [
      {"t":18.2,"v":14.17,"dir":"up"},
      {"t":18.24,"v":1.02,"dir":"down"}
    ],
    "boxB": [{"t":36.5,"t2":54.6,"v":18.74,"v2":16.88}],
    "textC": [
      {"t":15.46,"v":15.164,"label":"UC Voltage"},
      {"t":12.56,"v":13.263,"label":"Battery Voltage"},
      {"t":43.7,"v":15.247,"label":"Voltage of battery and UC"}
    ],
    "ruleC": [
      {"t":15.46,"v":15.057,"v2":14.779},
      {"t":12.54,"v":13.369,"v2":13.953}
    ],
    "headC": [
      {"t":15.46,"v":14.779,"dir":"down"},
      {"t":12.54,"v":13.953,"dir":"up"}
    ],
    "boxC": [{"t":29.1,"t2":58.3,"v":15.372,"v2":15.044}]
  },
  "concat": [
    {
      "width": 902,
      "height": 373,
      "title": {"text": "(a)", "orient": "bottom", "frame": "bounds", "anchor": "middle", "font": "Liberation Serif", "fontSize": 32, "fontWeight": "bold", "color": "#000", "offset": 23},
      "resolve": {"axis": {"x": "independent", "y": "independent"}},
      "layer": [
        {
          "data": {"name": "cur"},
          "mark": {"type": "line", "color": "#000000", "strokeWidth": 3},
          "encoding": {
            "x": {"field": "t", "type": "quantitative", "scale": {"domain": [0, 60], "nice": false}, "axis": {"values": [0, 10, 20, 30, 40, 50, 60], "title": "Time(s)", "grid": false}},
            "y": {"field": "uc", "type": "quantitative", "scale": {"domain": [0, 2.5], "nice": false, "zero": false}, "axis": {"values": [0, 0.5, 1, 1.5, 2, 2.5], "format": "~g", "title": "Current(A)", "grid": true, "titlePadding": 11}}
          }
        },
        {
          "data": {"name": "cur"},
          "mark": {"type": "line", "color": "#0000ff", "strokeWidth": 3},
          "encoding": {
            "x": {"field": "t", "type": "quantitative", "axis": {"orient": "top", "values": [0, 10, 20, 30, 40, 50, 60], "labels": false, "title": null, "grid": false}},
            "y": {"field": "bat", "type": "quantitative", "axis": {"orient": "right", "values": [0, 0.5, 1, 1.5, 2, 2.5], "labels": false, "title": null, "grid": false}}
          }
        },
        {
          "data": {"name": "ellA"},
          "mark": {"type": "point", "shape": "M0,-1C0.381,-1 0.69,-0.552 0.69,0C0.69,0.552 0.381,1 0,1C-0.381,1 -0.69,0.552 -0.69,0C-0.69,-0.552 -0.381,-1 0,-1Z", "size": 81796, "filled": false, "stroke": "#a8a8a8", "strokeWidth": 1, "strokeDash": [14, 6], "opacity": 1},
          "encoding": {
            "x": {"field": "t", "type": "quantitative", "axis": null},
            "y": {"field": "v", "type": "quantitative", "axis": null}
          }
        },
        {
          "data": {"name": "ruleA"},
          "mark": {"type": "rule", "color": "#000", "strokeWidth": 2},
          "encoding": {
            "x": {"field": "t", "type": "quantitative", "axis": null},
            "y": {"field": "v", "type": "quantitative", "axis": null},
            "y2": {"field": "v2"}
          }
        },
        {
          "data": {"name": "headA"},
          "mark": {"type": "point", "filled": true, "color": "#000", "opacity": 1, "size": 169, "strokeWidth": 0},
          "encoding": {
            "x": {"field": "t", "type": "quantitative", "axis": null},
            "y": {"field": "v", "type": "quantitative", "axis": null},
            "shape": {"field": "dir", "type": "nominal", "legend": null, "scale": {"domain": ["up", "down"], "range": ["M0,-1L0.5,1L0,0.55L-0.5,1Z", "M0,1L0.5,-1L0,-0.55L-0.5,-1Z"]}}
          }
        },
        {
          "data": {"name": "boxA"},
          "mark": {"type": "rect", "fill": "#ffffff", "stroke": "#a8a8a8", "strokeWidth": 1},
          "encoding": {
            "x": {"field": "t", "type": "quantitative", "axis": null},
            "x2": {"field": "t2"},
            "y": {"field": "v", "type": "quantitative", "axis": null},
            "y2": {"field": "v2"}
          }
        },
        {
          "data": {"name": "textA"},
          "mark": {"type": "text", "font": "Liberation Sans", "fontSize": 25, "align": "center", "baseline": "middle", "color": "#000"},
          "encoding": {
            "x": {"field": "t", "type": "quantitative", "axis": null},
            "y": {"field": "v", "type": "quantitative", "axis": null},
            "text": {"field": "label"}
          }
        }
      ]
    },
    {
      "width": 902,
      "height": 379,
      "title": {"text": "(b)", "orient": "bottom", "frame": "bounds", "anchor": "middle", "font": "Liberation Serif", "fontSize": 32, "fontWeight": "bold", "color": "#000", "offset": 26},
      "resolve": {"axis": {"x": "independent", "y": "independent"}},
      "layer": [
        {
          "data": {"name": "sw"},
          "mark": {"type": "line", "color": "#0000ff", "strokeWidth": 3},
          "encoding": {
            "x": {"field": "t", "type": "quantitative", "scale": {"domain": [0, 60], "nice": false}, "axis": {"values": [0, 10, 20, 30, 40, 50, 60], "title": "Time(s)", "grid": false}},
            "y": {"field": "s1", "type": "quantitative", "scale": {"domain": [-2, 20], "nice": false, "zero": false}, "axis": {"values": [0, 5, 10, 15, 20], "format": "~g", "title": "Voltage(V)", "grid": false, "titlePadding": 11}}
          }
        },
        {
          "data": {"name": "sw"},
          "mark": {"type": "line", "color": "#0a7d0a", "strokeWidth": 3},
          "encoding": {
            "x": {"field": "t", "type": "quantitative", "axis": {"orient": "top", "values": [0, 10, 20, 30, 40, 50, 60], "labels": false, "title": null, "grid": false}},
            "y": {"field": "s2", "type": "quantitative", "axis": {"orient": "right", "values": [0, 5, 10, 15, 20], "labels": false, "title": null, "grid": false}}
          }
        },
        {
          "data": {"name": "ruleB"},
          "mark": {"type": "rule", "color": "#777", "strokeWidth": 1},
          "encoding": {
            "x": {"field": "t", "type": "quantitative", "axis": null},
            "y": {"field": "v", "type": "quantitative", "axis": null},
            "y2": {"field": "v2"}
          }
        },
        {
          "data": {"name": "headB"},
          "mark": {"type": "point", "filled": true, "color": "#000", "opacity": 1, "size": 81, "strokeWidth": 0},
          "encoding": {
            "x": {"field": "t", "type": "quantitative", "axis": null},
            "y": {"field": "v", "type": "quantitative", "axis": null},
            "shape": {"field": "dir", "type": "nominal", "legend": null, "scale": {"domain": ["up", "down"], "range": ["M0,-1L0.5,1L0,0.55L-0.5,1Z", "M0,1L0.5,-1L0,-0.55L-0.5,-1Z"]}}
          }
        },
        {
          "data": {"name": "boxB"},
          "mark": {"type": "rect", "fill": "#ffffff", "stroke": "#a8a8a8", "strokeWidth": 1},
          "encoding": {
            "x": {"field": "t", "type": "quantitative", "axis": null},
            "x2": {"field": "t2"},
            "y": {"field": "v", "type": "quantitative", "axis": null},
            "y2": {"field": "v2"}
          }
        },
        {
          "data": {"name": "textB"},
          "mark": {"type": "text", "font": "Liberation Sans", "fontSize": 25, "align": "center", "baseline": "middle", "color": "#000"},
          "encoding": {
            "x": {"field": "t", "type": "quantitative", "axis": null},
            "y": {"field": "v", "type": "quantitative", "axis": null},
            "text": {"field": "label"}
          }
        }
      ]
    },
    {
      "width": 911,
      "height": 373,
      "title": {"text": "(c)", "orient": "bottom", "frame": "bounds", "anchor": "middle", "font": "Liberation Serif", "fontSize": 32, "fontWeight": "bold", "color": "#000", "offset": 21},
      "resolve": {"axis": {"x": "independent", "y": "independent"}},
      "layer": [
        {
          "data": {"name": "volt"},
          "mark": {"type": "line", "color": "#0000ff", "strokeWidth": 1.6},
          "encoding": {
            "x": {"field": "t", "type": "quantitative", "scale": {"domain": [0, 60], "nice": false}, "axis": {"values": [0, 10, 20, 30, 40, 50, 60], "title": "Time(s)", "grid": false}},
            "y": {"field": "bat", "type": "quantitative", "scale": {"domain": [13, 15.5], "nice": false, "zero": false}, "axis": {"values": [13, 13.5, 14, 14.5, 15, 15.5], "format": "~g", "title": "Voltage(V)", "grid": true, "titlePadding": 5}}
          }
        },
        {
          "data": {"name": "volt"},
          "mark": {"type": "line", "color": "#0a7d0a", "strokeWidth": 1.6},
          "encoding": {
            "x": {"field": "t", "type": "quantitative", "axis": {"orient": "top", "values": [0, 10, 20, 30, 40, 50, 60], "labels": false, "title": null, "grid": false}},
            "y": {"field": "uc", "type": "quantitative", "axis": {"orient": "right", "values": [13, 13.5, 14, 14.5, 15, 15.5], "labels": false, "title": null, "grid": false}}
          }
        },
        {
          "data": {"name": "ruleC"},
          "mark": {"type": "rule", "color": "#000", "strokeWidth": 2},
          "encoding": {
            "x": {"field": "t", "type": "quantitative", "axis": null},
            "y": {"field": "v", "type": "quantitative", "axis": null},
            "y2": {"field": "v2"}
          }
        },
        {
          "data": {"name": "headC"},
          "mark": {"type": "point", "filled": true, "color": "#000", "opacity": 1, "size": 169, "strokeWidth": 0},
          "encoding": {
            "x": {"field": "t", "type": "quantitative", "axis": null},
            "y": {"field": "v", "type": "quantitative", "axis": null},
            "shape": {"field": "dir", "type": "nominal", "legend": null, "scale": {"domain": ["up", "down"], "range": ["M0,-1L0.5,1L0,0.55L-0.5,1Z", "M0,1L0.5,-1L0,-0.55L-0.5,-1Z"]}}
          }
        },
        {
          "data": {"name": "boxC"},
          "mark": {"type": "rect", "fill": "#ffffff", "stroke": "#a8a8a8", "strokeWidth": 1},
          "encoding": {
            "x": {"field": "t", "type": "quantitative", "axis": null},
            "x2": {"field": "t2"},
            "y": {"field": "v", "type": "quantitative", "axis": null},
            "y2": {"field": "v2"}
          }
        },
        {
          "data": {"name": "textC"},
          "mark": {"type": "text", "font": "Liberation Sans", "fontSize": 25, "align": "center", "baseline": "middle", "color": "#000"},
          "encoding": {
            "x": {"field": "t", "type": "quantitative", "axis": null},
            "y": {"field": "v", "type": "quantitative", "axis": null},
            "text": {"field": "label"}
          }
        }
      ]
    }
  ],
  "columns": 1,
  "align": "none",
  "spacing": 27
}
